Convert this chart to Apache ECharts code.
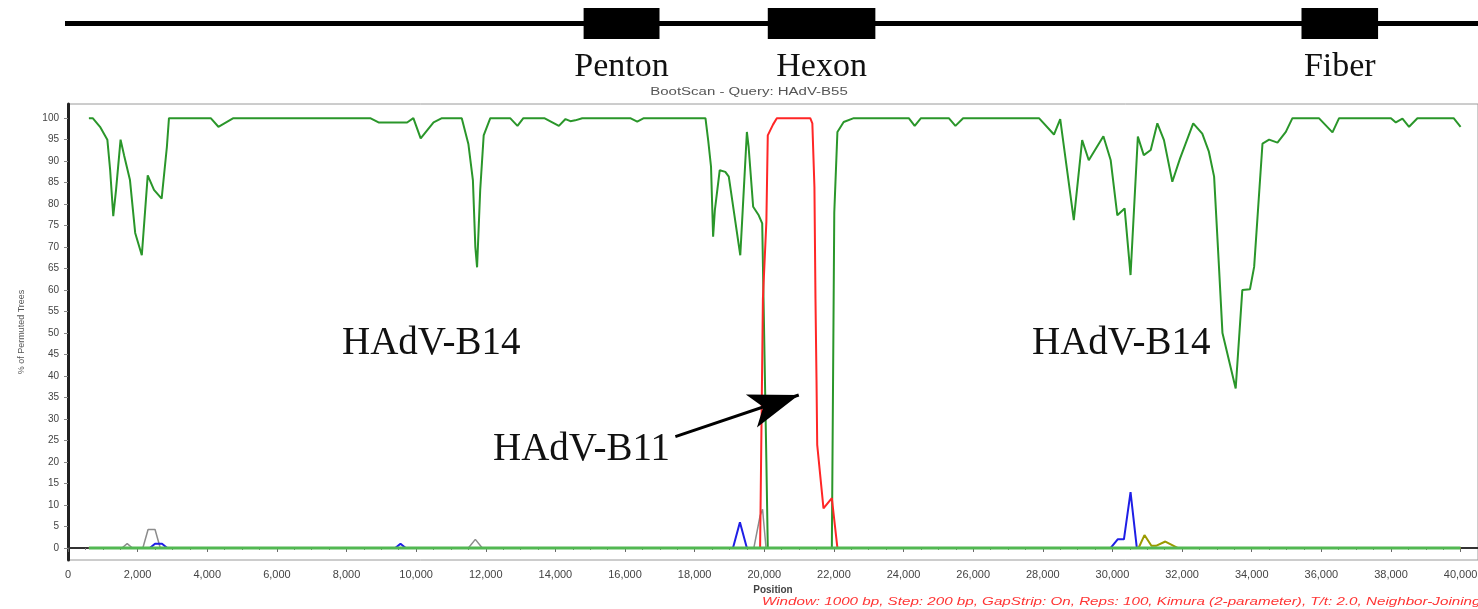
<!DOCTYPE html>
<html><head><meta charset="utf-8">
<script src="https://cdn.jsdelivr.net/npm/echarts@6/dist/echarts.min.js"></script>
<style>html,body{margin:0;padding:0;background:#fff;overflow:hidden}#c{width:1478px;height:609px}</style>
</head><body><div id="c"></div><script>
// ---- data ----
const geneNames = ['Penton', 'Hexon', 'Fiber'];
const geneStart = [14810, 20100, 35430];
const geneEnd = [16990, 23190, 37630];
const genomeSpan = [-150, 40500];

const yTicks = [0,5,10,15,20,25,30,35,40,45,50,55,60,65,70,75,80,85,90,95,100];

const b14 = [[600,100],[710,100],[920,98],[1130,95],[1210,88],[1300,77.2],[1380,83.3],[1510,95],[1610,91.4],[1780,85.6],[1930,73.3],[2120,68.1],[2290,86.7],[2470,83.3],[2690,81.3],[2840,93.3],[2900,100],[4100,100],[4320,98],[4750,100],[8680,100],[8920,99],[9740,99],[9920,100],[10130,95.3],[10500,99],[10740,100],[11310,100],[11500,94],[11630,85.6],[11700,70],[11750,65.3],[11840,83.3],[11940,96],[12130,100],[12700,100],[12910,98.2],[13080,100],[13680,100],[14100,98.2],[14290,99.8],[14430,99.3],[14570,99.5],[14770,100],[16150,100],[16350,99.2],[16540,100],[18310,100],[18390,94.7],[18470,88.7],[18530,72.4],[18580,78.6],[18720,87.9],[18880,87.5],[18980,86.4],[19310,68.1],[19380,78.6],[19500,96.8],[19550,93.3],[19680,79.4],[19840,77.4],[19940,75.5],[20060,20],[20100,0],[21940,0],[22010,78],[22100,96.8],[22280,99.1],[22570,100],[24150,100],[24320,98.2],[24500,100],[25300,100],[25490,98.2],[25710,100],[27890,100],[28320,96.2],[28500,99.8],[28890,76.3],[29130,94.9],[29320,90.2],[29740,95.8],[29950,90.2],[30140,77.4],[30350,79],[30520,63.5],[30730,95.7],[30900,91.4],[31100,92.6],[31290,98.8],[31480,94.9],[31720,85.2],[31940,90.6],[32320,98.8],[32580,96.4],[32770,92.2],[32920,86.4],[33060,65.4],[33160,50],[33540,37.1],[33730,60],[33950,60.2],[34070,65.4],[34310,94.1],[34500,95],[34740,94.3],[34980,96.8],[35170,100],[35930,100],[36320,96.7],[36510,100],[38000,100],[38140,99],[38330,99.9],[38520,98],[38760,100],[39800,100],[40000,98]];

const b11 = [[600,0],[19880,0],[19960,58],[20060,76],[20100,96],[20250,98.5],[20360,100],[21320,100],[21380,98.8],[21440,84],[21470,58],[21500,39],[21520,24],[21700,9.2],[21940,11.6],[22100,0],[40000,0]];

const grayS = [[600,0],[1550,0],[1700,1],[1850,0],[2150,0],[2300,4.3],[2500,4.3],[2650,0],[11500,0],[11700,2],[11900,0],[19700,0],[19880,7.5],[19950,9],[20050,0],[40000,0]];

const blueS = [[600,0],[2350,0],[2500,1],[2700,1],[2850,0],[9400,0],[9550,1],[9700,0],[19100,0],[19300,6],[19500,0],[29950,0],[30150,2],[30330,2],[30520,13],[30700,0],[40000,0]];

const oliveS = [[600,0],[30750,0],[30920,3],[31120,0.5],[31250,0.5],[31520,1.5],[31870,0],[40000,0]];

const zeroS = [[600,0],[40000,0]];

const arrowFrom = [17445, 25.9];
const arrowTo = [20990, 35.6];

// ---- chart ----
const chart = echarts.init(document.getElementById('c'));
const serif = "'Liberation Serif','DejaVu Serif',serif";
const sans = "'Liberation Sans','DejaVu Sans',sans-serif";

function renderGene(params, api) {
  const s = api.coord([api.value(0), 1]);
  const e = api.coord([api.value(1), 0]);
  const name = geneNames[params.dataIndex];
  return {
    type: 'group',
    children: [
      { type: 'rect', shape: { x: s[0], y: s[1], width: e[0] - s[0], height: e[1] - s[1] }, style: { fill: '#000' } },
      { type: 'text', x: (s[0] + e[0]) / 2, y: e[1] + 28,
        style: { text: name, font: '34px ' + serif, fill: '#111', textAlign: 'center', textVerticalAlign: 'middle' } }
    ]
  };
}

const lineBase = { type: 'line', symbol: 'none', silent: true, xAxisIndex: 0, yAxisIndex: 0 };

chart.setOption({
  animation: false,
  backgroundColor: '#fff',
  grid: [
    { left: 68, right: 0, top: 104, bottom: 49, show: true, borderColor: '#9a9a9a', borderWidth: 1, outerBoundsMode: 'none', containLabel: false },
    { left: 68, right: 0, top: 8, height: 31, outerBoundsMode: 'none', containLabel: false }
  ],
  xAxis: [
    { type: 'value', gridIndex: 0, min: 0, max: 40500, interval: 2000,
      name: 'Position', nameLocation: 'middle', nameGap: 24,
      nameTextStyle: { fontSize: 10, color: '#444', fontWeight: 'bold', fontFamily: sans },
      axisLine: { lineStyle: { color: '#333', width: 2 } },
      axisTick: { length: 4, lineStyle: { color: '#666' } },
      minorTick: { show: true, splitNumber: 4, length: 2, lineStyle: { color: '#777' } },
      axisLabel: { fontSize: 11, color: '#444', margin: 9, showMaxLabel: false, fontFamily: sans },
      splitLine: { show: false } },
    { type: 'value', gridIndex: 1, min: 0, max: 40500, show: false }
  ],
  yAxis: [
    { type: 'value', gridIndex: 0, min: -2.8, max: 103.3,
      name: '% of Permuted Trees', nameLocation: 'middle', nameGap: 42,
      nameTextStyle: { fontSize: 9, color: '#555', fontFamily: sans },
      axisLine: { show: true, lineStyle: { color: '#222', width: 3 } },
      axisTick: { show: true, customValues: yTicks, length: 4, lineStyle: { color: '#888' } },
      axisLabel: { customValues: yTicks, fontSize: 10, color: '#444', margin: 9, fontFamily: sans },
      splitLine: { show: false } },
    { type: 'value', gridIndex: 1, min: 0, max: 1, show: false }
  ],
  series: [
    { type: 'line', xAxisIndex: 1, yAxisIndex: 1, symbol: 'none', silent: true, clip: false,
      data: genomeSpan.map(x => [x, 0.5]), lineStyle: { color: '#000', width: 5 } },
    { type: 'custom', xAxisIndex: 1, yAxisIndex: 1, silent: true, clip: false,
      data: geneNames.map((n, i) => [geneStart[i], geneEnd[i]]), renderItem: renderGene },
    Object.assign({}, lineBase, { name: 'gray', data: grayS, lineStyle: { color: '#8c8c8c', width: 1.5 } }),
    Object.assign({}, lineBase, { name: 'blue', data: blueS, lineStyle: { color: '#1e1ee6', width: 2 } }),
    Object.assign({}, lineBase, { name: 'olive', data: oliveS, lineStyle: { color: '#9a9a00', width: 2 } }),
    Object.assign({}, lineBase, { name: 'HAdV-B14', data: b14, lineStyle: { color: '#2a962a', width: 2 } }),
    Object.assign({}, lineBase, { name: 'HAdV-B11', data: b11, lineStyle: { color: '#ff2626', width: 2 },
      markLine: { silent: true, symbol: ['none', 'arrow'], symbolSize: [26, 50],
        lineStyle: { color: '#000', width: 3, type: 'solid' }, label: { show: false },
        data: [[{ coord: arrowFrom }, { coord: arrowTo }]] } }),
    Object.assign({}, lineBase, { name: 'zero', data: zeroS, lineStyle: { color: '#52b852', width: 3 } })
  ],
  graphic: [
    { type: 'text', x: 749, y: 92, scaleX: 1.5, silent: true,
      style: { text: 'BootScan - Query: HAdV-B55', font: '10px ' + sans, fill: '#555', textAlign: 'center', textVerticalAlign: 'middle' } },
    { type: 'text', x: 342, y: 344, silent: true,
      style: { text: 'HAdV-B14', font: '39px ' + serif, fill: '#111', textVerticalAlign: 'middle' } },
    { type: 'text', x: 1032, y: 344, silent: true,
      style: { text: 'HAdV-B14', font: '39px ' + serif, fill: '#111', textVerticalAlign: 'middle' } },
    { type: 'text', x: 493, y: 450, silent: true,
      style: { text: 'HAdV-B11', font: '39px ' + serif, fill: '#111', textVerticalAlign: 'middle' } },
    { type: 'text', x: 762, y: 602, scaleX: 1.38, silent: true,
      style: { text: 'Window: 1000 bp, Step: 200 bp, GapStrip: On, Reps: 100, Kimura (2-parameter), T/t: 2.0, Neighbor-Joining',
        font: 'italic 11px ' + sans, fill: '#ff3434', textVerticalAlign: 'middle' } }
  ]
});
</script></body></html>
